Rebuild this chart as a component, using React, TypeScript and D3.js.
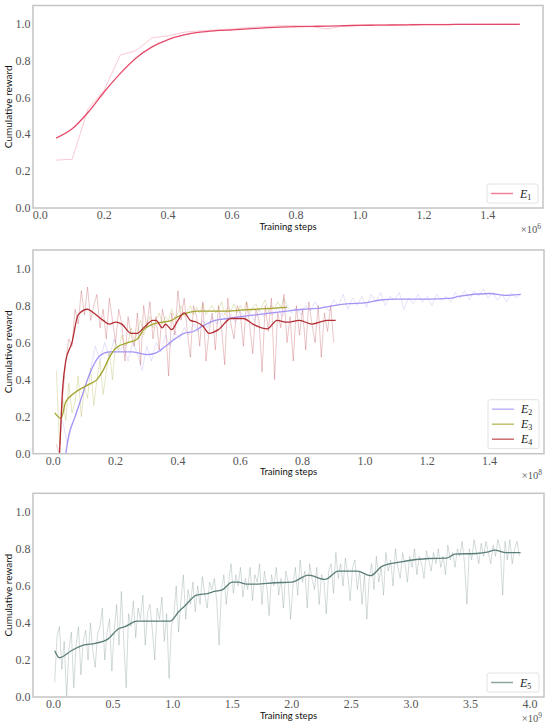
import React, { useEffect, useRef } from 'react';
import * as d3 from 'd3';

// ---- panel 1 (x in 1e6 steps) ----
const e1Start = 0.05;
const e1Step = 0.05;
const e1Raw = [0.26, 0.265, 0.54, 0.64, 0.83, 0.855, 0.925, 0.935, 0.955, 0.962, 0.968, 0.972, 0.98, 0.985,
  0.99, 0.99, 0.985, 0.972, 0.99, 0.995, 0.995, 0.995, 0.997, 0.998, 0.998, 0.998, 0.999, 0.999, 1.0, 1.0];
const e1Smooth = [0.38, 0.43, 0.52, 0.63, 0.73, 0.815, 0.875, 0.915, 0.94, 0.955, 0.963, 0.968, 0.973, 0.978,
  0.982, 0.985, 0.987, 0.988, 0.99, 0.992, 0.993, 0.994, 0.995, 0.996, 0.996, 0.997, 0.997, 0.998, 0.998, 0.998];

// ---- panel 2 (x in 1e8 steps) ----
const e2Start = 0.03;
const e2Step = 0.015;
const e2Raw = [0.18, 0.05, 0.15, 0.22, 0.3, 0.38, 0.46, 0.58, 0.5, 0.6, 0.52, 0.62, 0.55, 0.58, 0.5, 0.6, 0.54,
  0.45, 0.58, 0.5, 0.6, 0.55, 0.64, 0.58, 0.66, 0.62, 0.68, 0.64, 0.7, 0.66, 0.72, 0.68, 0.74, 0.7, 0.76, 0.72,
  0.75, 0.71, 0.77, 0.73, 0.76, 0.72, 0.78, 0.74, 0.77, 0.75, 0.79, 0.74, 0.8, 0.76, 0.79, 0.75, 0.8, 0.77, 0.82,
  0.78, 0.8, 0.77, 0.83, 0.8, 0.86, 0.78, 0.84, 0.8, 0.85, 0.79, 0.86, 0.82, 0.87, 0.8, 0.85, 0.83, 0.87, 0.78,
  0.84, 0.81, 0.86, 0.82, 0.85, 0.8, 0.86, 0.83, 0.85, 0.82, 0.87, 0.84, 0.88, 0.83, 0.88, 0.85, 0.89, 0.84, 0.87,
  0.83, 0.86, 0.82, 0.87, 0.84, 0.86];
const e2SmoothX = [0.03, 0.04, 0.05, 0.07, 0.09, 0.11, 0.13, 0.15, 0.18, 0.2, 0.25, 0.3, 0.33, 0.36, 0.39, 0.42,
  0.45, 0.48, 0.52, 0.56, 0.6, 0.65, 0.7, 0.75, 0.8, 0.85, 0.9, 0.95, 1.0, 1.05, 1.1, 1.2, 1.28, 1.3, 1.4, 1.45, 1.5];
const e2SmoothY = [-0.1, 0.0, 0.1, 0.2, 0.3, 0.4, 0.48, 0.53, 0.55, 0.55, 0.55, 0.535, 0.545, 0.58, 0.62, 0.65,
  0.66, 0.69, 0.72, 0.73, 0.74, 0.75, 0.76, 0.77, 0.78, 0.785, 0.8, 0.81, 0.815, 0.83, 0.835, 0.835, 0.84, 0.85,
  0.865, 0.855, 0.86];

const e3Start = 0.01;
const e3Step = 0.01;
const e3Raw = [0.45, 0.05, 0.3, 0.18, 0.38, 0.22, 0.28, 0.42, 0.2, 0.36,
  0.3, 0.46, 0.26, 0.4, 0.5, 0.32, 0.44, 0.55, 0.4, 0.6,
  0.56, 0.64, 0.58, 0.6, 0.68, 0.6, 0.66, 0.72, 0.64, 0.7,
  0.74, 0.68, 0.72, 0.76, 0.7, 0.74, 0.72, 0.78, 0.73, 0.76,
  0.8, 0.74, 0.77, 0.8, 0.75, 0.79, 0.76, 0.81, 0.75, 0.78,
  0.8, 0.76, 0.78, 0.82, 0.75, 0.79, 0.77, 0.81, 0.76, 0.8,
  0.77, 0.82, 0.76, 0.79, 0.81, 0.77, 0.8, 0.83, 0.77, 0.8,
  0.78, 0.82, 0.79, 0.84, 0.8];
const e3SmoothX = [0.005, 0.025, 0.04, 0.07, 0.11, 0.14, 0.16, 0.18, 0.2, 0.24, 0.27, 0.29, 0.32, 0.35, 0.38, 0.4,
  0.43, 0.46, 0.5, 0.55, 0.6, 0.65, 0.7, 0.75];
const e3SmoothY = [0.22, 0.19, 0.28, 0.33, 0.37, 0.4, 0.45, 0.52, 0.57, 0.6, 0.62, 0.67, 0.7, 0.71, 0.72, 0.74,
  0.76, 0.77, 0.77, 0.77, 0.775, 0.78, 0.785, 0.79];

const e4Start = 0.01;
const e4Step = 0.01;
const e4Raw = [0.05, 0.0, 0.3, 0.5, 0.62, 0.58, 0.78, 0.7, 0.88, 0.75,
  0.9, 0.72, 0.8, 0.86, 0.68, 0.78, 0.62, 0.84, 0.72, 0.6,
  0.78, 0.7, 0.5, 0.74, 0.64, 0.58, 0.76, 0.48, 0.8, 0.68,
  0.82, 0.62, 0.74, 0.56, 0.78, 0.7, 0.42, 0.76, 0.64, 0.88,
  0.72, 0.84, 0.66, 0.52, 0.8, 0.74, 0.58, 0.82, 0.5, 0.66,
  0.76, 0.56, 0.8, 0.68, 0.48, 0.84, 0.7, 0.62, 0.8, 0.76,
  0.58, 0.82, 0.7, 0.54, 0.78, 0.72, 0.44, 0.8, 0.66, 0.84,
  0.4, 0.76, 0.68, 0.86, 0.6, 0.74, 0.5, 0.8, 0.64, 0.78,
  0.56, 0.82, 0.7, 0.6, 0.8, 0.52, 0.76, 0.66, 0.8, 0.6];
const e4SmoothX = [0.01, 0.02, 0.03, 0.04, 0.06, 0.08, 0.11, 0.13, 0.16, 0.18, 0.2, 0.22, 0.25, 0.27, 0.29, 0.32,
  0.33, 0.35, 0.36, 0.38, 0.4, 0.42, 0.44, 0.46, 0.48, 0.5, 0.53, 0.57, 0.61, 0.64, 0.686, 0.718, 0.75, 0.79, 0.83,
  0.879, 0.906];
const e4SmoothY = [-0.3, 0.0, 0.35, 0.5, 0.6, 0.75, 0.78, 0.76, 0.72, 0.7, 0.71, 0.7, 0.65, 0.65, 0.68, 0.72, 0.72,
  0.68, 0.7, 0.67, 0.72, 0.76, 0.72, 0.71, 0.69, 0.65, 0.67, 0.73, 0.73, 0.7, 0.674, 0.72, 0.71, 0.72, 0.7, 0.72, 0.72];

// ---- panel 3 (x in 1e9 steps) ----
const e5Start = 0.01;
const e5Step = 0.02;
const e5Raw = [0.08, 0.33, 0.38, 0.15, 0.3, 0.0, 0.26, 0.35, 0.05, 0.28,
  0.38, 0.12, 0.3, 0.36, 0.2, 0.4, 0.25, 0.16, 0.34, 0.38,
  0.48, 0.2, 0.35, 0.42, 0.14, 0.36, 0.5, 0.28, 0.57, 0.3,
  0.05, 0.45, 0.38, 0.52, 0.32, 0.48, 0.42, 0.55, 0.28, 0.46,
  0.5, 0.36, 0.2, 0.48, 0.42, 0.54, 0.3, 0.45, 0.1, 0.38,
  0.44, 0.6, 0.35, 0.52, 0.66, 0.42, 0.58, 0.5, 0.62, 0.46,
  0.6, 0.5, 0.65, 0.55, 0.48, 0.62, 0.58, 0.64, 0.52, 0.28,
  0.58, 0.66, 0.5, 0.62, 0.72, 0.56, 0.66, 0.6, 0.7, 0.54,
  0.64, 0.58, 0.7, 0.52, 0.66, 0.62, 0.72, 0.5, 0.68, 0.6,
  0.44, 0.66, 0.6, 0.7, 0.55, 0.64, 0.48, 0.68, 0.62, 0.42,
  0.6, 0.7, 0.55, 0.74, 0.62, 0.68, 0.48, 0.72, 0.64, 0.58,
  0.7, 0.5, 0.66, 0.62, 0.45, 0.68, 0.72, 0.56, 0.78, 0.64,
  0.72, 0.6, 0.75, 0.66, 0.52, 0.7, 0.74, 0.58, 0.68, 0.5,
  0.66, 0.42, 0.64, 0.72, 0.58, 0.76, 0.62, 0.7, 0.55, 0.78,
  0.68, 0.74, 0.6, 0.8, 0.7, 0.64, 0.78, 0.72, 0.62, 0.76,
  0.7, 0.8, 0.66, 0.76, 0.72, 0.64, 0.79, 0.74, 0.68, 0.78,
  0.72, 0.8, 0.7, 0.76, 0.66, 0.82, 0.74, 0.78, 0.7, 0.8,
  0.76, 0.84, 0.72, 0.5, 0.8, 0.74, 0.85, 0.78, 0.72, 0.83,
  0.76, 0.84, 0.78, 0.72, 0.82, 0.76, 0.85, 0.8, 0.55, 0.84,
  0.74, 0.85, 0.72, 0.8, 0.84, 0.76];
const e5SmoothX = [0.01, 0.05, 0.15, 0.25, 0.35, 0.45, 0.55, 0.6, 0.7, 0.8, 0.9, 0.98, 1.05, 1.1, 1.2, 1.3, 1.35,
  1.42, 1.5, 1.55, 1.62, 1.7, 1.86, 2.0, 2.14, 2.28, 2.39, 2.55, 2.66, 2.76, 2.92, 3.15, 3.3, 3.37, 3.55, 3.65, 3.7,
  3.8, 3.92];
const e5SmoothY = [0.25, 0.212, 0.25, 0.28, 0.29, 0.31, 0.37, 0.38, 0.41, 0.41, 0.41, 0.41, 0.46, 0.49, 0.55,
  0.56, 0.57, 0.58, 0.62, 0.62, 0.61, 0.61, 0.617, 0.62, 0.658, 0.635, 0.68, 0.68, 0.655, 0.707, 0.73, 0.748, 0.75,
  0.772, 0.775, 0.784, 0.793, 0.78, 0.78];

const yTicks = [0, 0.2, 0.4, 0.6, 0.8, 1.0];
const xTicks1 = [0, 0.2, 0.4, 0.6, 0.8, 1.0, 1.2, 1.4];
const xTicks2 = [0, 0.2, 0.4, 0.6, 0.8, 1.0, 1.2, 1.4];
const xTicks3 = [0, 0.5, 1.0, 1.5, 2.0, 2.5, 3.0, 3.5, 4.0];

interface Series {
  name: string;
  sub: string;
  color: string;
  rawStart: number;
  rawStep: number;
  raw: number[];
  smoothX: number[];
  smoothY: number[];
  rawColor?: string;
}

interface Panel {
  left: number; right: number; top: number; bottom: number;
  xDomain: [number, number];
  xTicks: number[];
  exp: string;
  series: Series[];
  legendW: number;
}

const panels: Panel[] = [
  {
    left: 33, right: 543, top: 5.5, bottom: 208, xDomain: [-0.0225, 1.5725], xTicks: xTicks1, exp: '6',
    legendW: 51,
    series: [{
      name: 'E', sub: '1', color: '#e5496a', rawColor: '#f8c3cf', rawStart: e1Start, rawStep: e1Step, raw: e1Raw,
      smoothX: e1Raw.map((_, i) => e1Start + i * e1Step), smoothY: e1Smooth,
    }],
  },
  {
    left: 33, right: 544, top: 250, bottom: 453.7, xDomain: [-0.065, 1.5745], xTicks: xTicks2, exp: '8',
    legendW: 51,
    series: [
      { name: 'E', sub: '2', color: '#a394f4', rawStart: e2Start, rawStep: e2Step, raw: e2Raw, smoothX: e2SmoothX, smoothY: e2SmoothY },
      { name: 'E', sub: '3', color: '#a3a32c', rawStart: e3Start, rawStep: e3Step, raw: e3Raw, smoothX: e3SmoothX, smoothY: e3SmoothY },
      { name: 'E', sub: '4', color: '#b32e34', rawStart: e4Start, rawStep: e4Step, raw: e4Raw, smoothX: e4SmoothX, smoothY: e4SmoothY },
    ],
  },
  {
    left: 33, right: 544, top: 493.3, bottom: 697, xDomain: [-0.172, 4.117], xTicks: xTicks3, exp: '9',
    legendW: 52,
    series: [{ name: 'E', sub: '5', color: '#5b7d78', rawStart: e5Start, rawStep: e5Step, raw: e5Raw, smoothX: e5SmoothX, smoothY: e5SmoothY }],
  },
];

const serif = '"Liberation Serif", "DejaVu Serif", serif';
const sans = 'Lato, "Open Sans", sans-serif';

const App: React.FC = () => {
  const svgRef = useRef<SVGSVGElement>(null);

  useEffect(() => {
    if (!svgRef.current) return;
    const svg = d3.select(svgRef.current);
    svg.selectAll('*').remove();
    svg.append('rect').attr('width', 550).attr('height', 725).attr('fill', '#fff');

    panels.forEach((p, pi) => {
      const x = d3.scaleLinear().domain(p.xDomain).range([p.left, p.right]);
      const y = d3.scaleLinear().domain([0, 1.1]).range([p.bottom, p.top]);
      const g = svg.append('g');

      const clipId = `clip${pi}`;
      g.append('clipPath').attr('id', clipId)
        .append('rect')
        .attr('x', p.left).attr('y', p.top)
        .attr('width', p.right - p.left).attr('height', p.bottom - p.top);

      const plot = g.append('g').attr('clip-path', `url(#${clipId})`);

      // raw (noisy) traces
      p.series.forEach(s => {
        const line = d3.line<number>()
          .x((_, i) => x(s.rawStart + i * s.rawStep))
          .y(d => y(d));
        plot.append('path')
          .attr('d', line(s.raw) as string)
          .attr('fill', 'none')
          .attr('stroke', s.rawColor ?? s.color)
          .attr('stroke-opacity', s.rawColor ? 1 : 0.3)
          .attr('stroke-width', 0.9);
      });

      // smoothed traces
      p.series.forEach(s => {
        const pts = s.smoothX.map((xv, i) => [xv, s.smoothY[i]] as [number, number]);
        const line = d3.line<[number, number]>()
          .x(d => x(d[0]))
          .y(d => y(d[1]))
          .curve(d3.curveMonotoneX);
        plot.append('path')
          .attr('d', line(pts) as string)
          .attr('fill', 'none')
          .attr('stroke', s.color)
          .attr('stroke-width', 1.3);
      });

      // frame
      g.append('rect')
        .attr('x', p.left).attr('y', p.top)
        .attr('width', p.right - p.left).attr('height', p.bottom - p.top)
        .attr('fill', 'none').attr('stroke', '#c4c4c4').attr('stroke-width', 1.5);

      // y ticks
      const fmt = d3.format('.1f');
      g.selectAll('.yt').data(yTicks).enter().append('text')
        .attr('x', p.left - 2.5)
        .attr('y', d => y(d) + 4)
        .attr('text-anchor', 'end')
        .attr('font-family', serif)
        .attr('font-size', 12)
        .attr('fill', '#555')
        .text(d => fmt(d));

      // x ticks
      g.selectAll('.xt').data(p.xTicks).enter().append('text')
        .attr('x', d => x(d))
        .attr('y', p.bottom + 11)
        .attr('text-anchor', 'middle')
        .attr('font-family', serif)
        .attr('font-size', 12)
        .attr('fill', '#555')
        .text(d => fmt(d));

      // axis labels
      g.append('text')
        .attr('x', (p.left + p.right) / 2)
        .attr('y', p.bottom + 21.5)
        .attr('text-anchor', 'middle')
        .attr('font-family', sans)
        .attr('font-size', 9.5)
        .attr('fill', '#111')
        .text('Training steps');

      g.append('text')
        .attr('transform', `translate(12,${(p.top + p.bottom) / 2}) rotate(-90)`)
        .attr('text-anchor', 'middle')
        .attr('font-family', sans)
        .attr('font-size', 10)
        .attr('fill', '#111')
        .text('Cumulative reward');

      // exponent label
      const ex = g.append('text')
        .attr('x', p.right - 2)
        .attr('y', p.bottom + 25)
        .attr('text-anchor', 'end')
        .attr('font-family', serif)
        .attr('font-size', 10.5)
        .attr('fill', '#555');
      ex.append('tspan').text('\u00d710');
      ex.append('tspan').attr('dy', -4).attr('font-size', 7.5).text(p.exp);

      // legend
      const n = p.series.length;
      const rowH = 15;
      const lw = p.legendW;
      const lh = n * rowH + 4;
      const lx = p.right - 5 - lw;
      const ly = p.bottom - 5 - lh;
      const leg = g.append('g');
      leg.append('rect')
        .attr('x', lx).attr('y', ly)
        .attr('width', lw).attr('height', lh)
        .attr('rx', 2)
        .attr('fill', '#fff').attr('fill-opacity', 0.85)
        .attr('stroke', '#e2e2e2').attr('stroke-width', 1);
      p.series.forEach((s, i) => {
        const cy = ly + 2 + rowH * i + rowH / 2;
        leg.append('line')
          .attr('x1', lx + 4).attr('x2', lx + 26)
          .attr('y1', cy).attr('y2', cy)
          .attr('stroke', s.color).attr('stroke-opacity', 0.7)
          .attr('stroke-width', 1.5);
        const t = leg.append('text')
          .attr('x', lx + 33).attr('y', cy + 4)
          .attr('font-family', serif)
          .attr('font-size', 12)
          .attr('fill', '#222');
        t.append('tspan').attr('font-style', 'italic').text(s.name);
        t.append('tspan').attr('dy', 2).attr('font-size', 8).text(s.sub);
      });
    });
  }, []);

  return (
    <svg
      ref={svgRef}
      width={550}
      height={725}
      style={{ position: 'absolute', left: 0, top: 0 }}
    />
  );
};

export default App;
